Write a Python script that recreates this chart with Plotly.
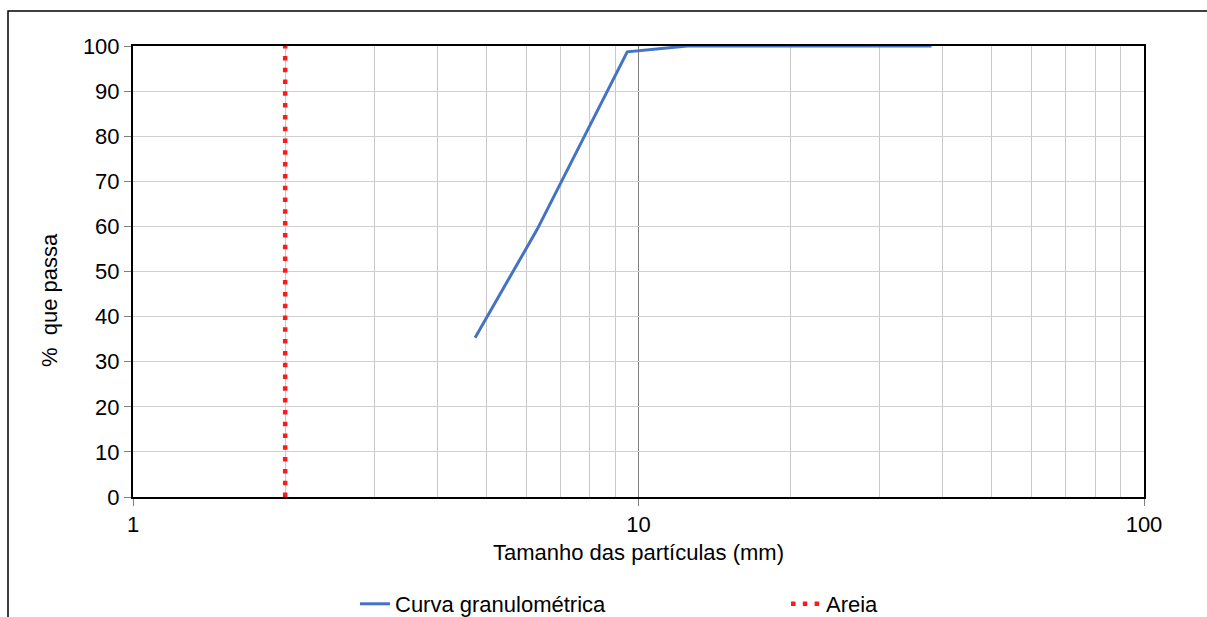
import plotly.graph_objects as go

# Data
curve_x = [4.75, 6.3, 9.5, 12.5, 19, 25, 38]
curve_y = [35.3, 59.3, 98.7, 100, 100, 100, 100]
sand_x = [2, 2]
sand_y = [0, 100]
x_tickvals = [1, 10, 100]
x_ticktext = ["1", "10", "100"]
y_tickvals = [0, 10, 20, 30, 40, 50, 60, 70, 80, 90, 100]

FONT = "Liberation Sans, Arial, sans-serif"
FS = 22

fig = go.Figure()
fig.add_trace(go.Scatter(
    x=curve_x, y=curve_y, mode="lines", name="Curva granulométrica",
    line=dict(color="#4472C4", width=3), cliponaxis=False,
))
fig.add_trace(go.Scatter(
    x=sand_x, y=sand_y, mode="lines", name="Areia",
    line=dict(color="#FF1A1A", width=4.5, dash="4.5px,7.3px"), cliponaxis=False,
))

L, R, T, B = 133, 63, 46, 120
W, H = 1207, 617
pw = W - L - R
ph = H - T - B

def px_x(p):
    return (p - L) / pw

def px_y(p):
    return (H - B - p) / ph

fig.update_layout(
    width=W, height=H,
    margin=dict(l=L, r=R, t=T, b=B, pad=0),
    paper_bgcolor="white", plot_bgcolor="white",
    font=dict(family=FONT, size=FS, color="#000000"),
    showlegend=True,
    legend=dict(
        orientation="h", xref="container", yref="container",
        x=355 / W, xanchor="left", y=(H - 604) / H, yanchor="middle",
        entrywidth=386, entrywidthmode="pixels",
        font=dict(family=FONT, size=FS, color="#000000"),
        bgcolor="rgba(0,0,0,0)", traceorder="normal",
    ),
    xaxis=dict(
        type="log", range=[0, 2],
        tickvals=x_tickvals, ticktext=x_ticktext,
        ticks="outside", ticklen=7, tickcolor="#808080", tickwidth=1,
        showline=True, linecolor="#000000", linewidth=2, mirror=True,
        showgrid=True, gridcolor="#7f7f7f", gridwidth=1.2,
        minor=dict(dtick="D1", showgrid=True, gridcolor="#c8c8c8", gridwidth=1, ticks=""),
        zeroline=False,
        tickfont=dict(family=FONT, size=FS, color="#000000"),
        title=dict(text="Tamanho das partículas (mm)", standoff=8,
                   font=dict(family=FONT, size=FS, color="#000000")),
    ),
    yaxis=dict(
        range=[0, 100], tickvals=y_tickvals,
        ticks="outside", ticklen=7, tickcolor="#808080", tickwidth=1,
        showline=True, linecolor="#000000", linewidth=2, mirror=True,
        showgrid=True, gridcolor="#d0d0d0", gridwidth=1,
        zeroline=False,
        tickfont=dict(family=FONT, size=FS, color="#000000"),
    ),
    annotations=[dict(
        text="% \u00a0que passa", textangle=-90, xref="paper", yref="paper",
        x=px_x(49), y=px_y(300), xanchor="center", yanchor="middle",
        showarrow=False, font=dict(family=FONT, size=FS, color="#000000"),
    )],
    shapes=[dict(
        type="rect", xref="paper", yref="paper",
        x0=px_x(8), x1=px_x(1215), y0=px_y(11), y1=px_y(625),
        line=dict(color="#000000", width=1.5), fillcolor="rgba(0,0,0,0)", layer="below",
    )],
)

fig.write_html(
    "out.html",
    config={"displayModeBar": False},
    post_script="document.body.style.margin='0';document.body.style.overflow='hidden';",
)
